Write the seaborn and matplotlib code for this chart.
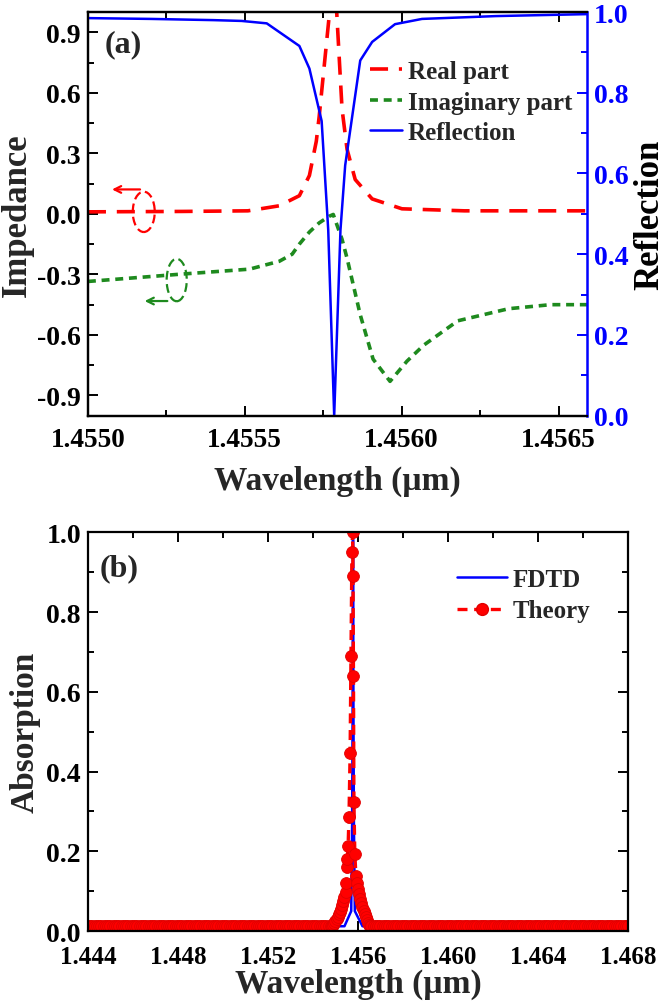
import numpy as np
import matplotlib
matplotlib.use("Agg")
import matplotlib.pyplot as plt
import seaborn as sns
from matplotlib.patches import Ellipse
from matplotlib.lines import Line2D
from matplotlib.ticker import MultipleLocator, AutoMinorLocator, FormatStrFormatter

# ---- panel (a): impedance and reflection ----
real_wl = [1.45500, 1.45530, 1.45551, 1.45561, 1.455674, 1.455706, 1.455728, 1.455737,
           1.455753, 1.455769, 1.455782, 1.455793, 1.45581, 1.455826, 1.455852,
           1.455906, 1.456001, 1.45620, 1.45660]
real_z = [0.010, 0.012, 0.015, 0.04, 0.09, 0.19, 0.36, 0.48,
          0.73, 0.98, 1.20, 1.00, 0.52, 0.32, 0.17,
          0.074, 0.025, 0.015, 0.015]

imag_wl = [1.45500, 1.455286, 1.455515, 1.45561, 1.455651, 1.455674, 1.455706, 1.455737,
           1.455769, 1.455782, 1.45581, 1.455826, 1.455868, 1.455909, 1.455963,
           1.456017, 1.456071, 1.456179, 1.456341, 1.456475, 1.45660]
imag_z = [-0.335, -0.30, -0.274, -0.235, -0.20, -0.15, -0.09, -0.045,
          -0.012, -0.003, -0.126, -0.22, -0.50, -0.72, -0.83,
          -0.73, -0.65, -0.53, -0.47, -0.45, -0.45]

refl_wl = [1.45500, 1.45520, 1.45540, 1.45549, 1.45557, 1.455674, 1.455706, 1.455745,
           1.455766, 1.455785, 1.455805, 1.45582, 1.455868, 1.455906, 1.455979,
           1.456065, 1.45630, 1.45660]
refl = [0.985, 0.983, 0.980, 0.978, 0.972, 0.916, 0.86, 0.73,
        0.46, 0.0, 0.46, 0.62, 0.88, 0.926, 0.97,
        0.983, 0.990, 0.995]

# ---- panel (b): absorption ----
fdtd_wl = [1.4440, 1.4500, 1.4554, 1.45570, 1.45574, 1.45576, 1.45578, 1.45580,
           1.45582, 1.45586, 1.4562, 1.4620, 1.4680]
fdtd_abs = [0.010, 0.010, 0.012, 0.05, 0.27, 0.54, 1.0, 0.54,
            0.27, 0.05, 0.012, 0.010, 0.010]

theory_peak_wl = [1.45485, 1.45490, 1.45495, 1.45500, 1.45505, 1.45510, 1.45515, 1.45520,
                  1.45525, 1.45530, 1.45535, 1.45540, 1.45545, 1.45548,
                  1.45551, 1.45553, 1.45556, 1.45560, 1.45565, 1.45569, 1.45573, 1.45576,
                  1.45578, 1.45580, 1.45582, 1.45586, 1.45591, 1.45596, 1.45600,
                  1.45605, 1.45610, 1.45615, 1.45620, 1.45625, 1.45630, 1.45635,
                  1.45640, 1.45645, 1.45650, 1.45655, 1.45658]
theory_peak_abs = [0.012, 0.016, 0.02, 0.025, 0.03, 0.036, 0.042, 0.048,
                   0.056, 0.065, 0.075, 0.085, 0.098, 0.12,
                   0.16, 0.18, 0.213, 0.286, 0.446, 0.69, 0.95, 1.0,
                   0.89, 0.64, 0.323, 0.193, 0.138, 0.12, 0.105,
                   0.092, 0.08, 0.07, 0.06, 0.05, 0.042, 0.034,
                   0.027, 0.021, 0.016, 0.013, 0.012]
theory_baseline = 0.012
theory_grid_left = np.arange(1.4440, 1.45485, 0.0001)
theory_grid_right = np.arange(1.45660, 1.46801, 0.0001)

theory_wl = np.concatenate([theory_grid_left, theory_peak_wl, theory_grid_right])
theory_abs = np.concatenate([np.full_like(theory_grid_left, theory_baseline),
                             theory_peak_abs,
                             np.full_like(theory_grid_right, theory_baseline)])

sns.set_theme(style="ticks")
plt.rcParams["font.family"] = ["Liberation Serif", "DejaVu Serif"]
plt.rcParams["font.weight"] = "bold"
plt.rcParams["axes.labelweight"] = "bold"
plt.rcParams["axes.linewidth"] = 1.6
plt.rcParams["axes.edgecolor"] = "black"

RED = "#ff0000"
GREEN = "#1e8a1e"
BLUE = "#0000ff"
LABEL = 24


def style_ticks(ax, xsize, ysize, xpad, right=True):
    ax.tick_params(which="both", direction="in", top=True, right=right, left=True,
                   bottom=True, colors="black", width=1.4)
    ax.tick_params(which="major", length=7)
    ax.tick_params(which="minor", length=4)
    ax.tick_params(axis="x", labelsize=xsize, pad=xpad)
    ax.tick_params(axis="y", labelsize=ysize, pad=5)


fig = plt.figure(figsize=(6.66, 10.04), dpi=100)

# panel (a)
ax = fig.add_axes([0.132, 0.585, 0.749, 0.402])
sns.lineplot(x=real_wl, y=real_z, ax=ax, color=RED, lw=2.6, estimator=None)
ax.lines[-1].set_dashes([5, 3])
sns.lineplot(x=imag_wl, y=imag_z, ax=ax, color=GREEN, lw=2.6, estimator=None)
ax.lines[-1].set_dashes([2.2, 1.6])
ax.set_xlim(1.4550, 1.45659)
ax.set_ylim(-1.0, 1.0)
ax.xaxis.set_major_locator(MultipleLocator(0.0005))
ax.xaxis.set_minor_locator(AutoMinorLocator(2))
ax.xaxis.set_major_formatter(FormatStrFormatter("%.4f"))
ax.yaxis.set_major_locator(MultipleLocator(0.3))
ax.yaxis.set_minor_locator(AutoMinorLocator(2))
ax.yaxis.set_major_formatter(FormatStrFormatter("%.1f"))
style_ticks(ax, 19.5, 20, 8, right=False)
ax.spines["right"].set_visible(False)
ax.set_xlabel("Wavelength (µm)", fontsize=LABEL, labelpad=9)
ax.set_ylabel("Impedance", fontsize=LABEL + 1, labelpad=2)

ax2 = ax.twinx()
sns.lineplot(x=refl_wl, y=refl, ax=ax2, color=BLUE, lw=1.8, estimator=None)
ax2.set_ylim(0.0, 1.0)
ax2.yaxis.set_major_locator(MultipleLocator(0.2))
ax2.yaxis.set_minor_locator(AutoMinorLocator(2))
ax2.yaxis.set_major_formatter(FormatStrFormatter("%.1f"))
ax2.tick_params(which="both", direction="in", right=True, colors=BLUE, width=1.4,
                labelsize=20, pad=5)
ax2.tick_params(which="major", length=7)
ax2.tick_params(which="minor", length=4)
ax2.spines["right"].set_color(BLUE)
ax2.spines["right"].set_linewidth(1.8)
ax2.set_ylabel("Reflection", fontsize=LABEL + 1, color="black", labelpad=4)

# dashed ellipses with arrows pointing to the impedance axis
ax.add_patch(Ellipse((1.455178, 0.01), 7.0e-5, 0.20, fill=False, ec=RED,
                     lw=1.6, ls=(0, (4, 2))))
ax.annotate("", xy=(1.455068, 0.121), xytext=(1.455175, 0.121),
            arrowprops=dict(arrowstyle="->", color=RED, lw=1.6))
ax.add_patch(Ellipse((1.455283, -0.328), 6.4e-5, 0.21, fill=False, ec=GREEN,
                     lw=1.6, ls=(0, (4, 2))))
ax.annotate("", xy=(1.455172, -0.432), xytext=(1.455262, -0.432),
            arrowprops=dict(arrowstyle="->", color=GREEN, lw=1.6))

ax.text(0.034, 0.958, "(a)", transform=ax.transAxes, fontsize=23,
        fontweight="bold", va="top", ha="left")

handles = [Line2D([], [], color=RED, lw=2.6, dashes=[5, 3]),
           Line2D([], [], color=GREEN, lw=2.6, dashes=[2.2, 1.6]),
           Line2D([], [], color=BLUE, lw=1.8)]
ax.legend(handles, ["Real part", "Imaginary part", "Reflection"], loc="upper left",
          bbox_to_anchor=(0.541, 0.912), frameon=False, fontsize=18,
          handlelength=1.25, handletextpad=0.25, labelspacing=0.3, borderpad=0)

# panel (b)
bx = fig.add_axes([0.132, 0.0717, 0.811, 0.397])
sns.lineplot(x=fdtd_wl, y=fdtd_abs, ax=bx, color=BLUE, lw=1.8, estimator=None)
sns.lineplot(x=theory_wl, y=theory_abs, ax=bx, color=RED, lw=2.4, estimator=None,
             sort=False, marker="o", markersize=8.5, markerfacecolor=RED,
             markeredgecolor="#e00000", markeredgewidth=0.6)
bx.lines[-1].set_dashes([3, 2])
bx.set_xlim(1.444, 1.468)
bx.set_ylim(0.0, 1.0)
bx.xaxis.set_major_locator(MultipleLocator(0.004))
bx.xaxis.set_minor_locator(AutoMinorLocator(2))
bx.xaxis.set_major_formatter(FormatStrFormatter("%.3f"))
bx.yaxis.set_major_locator(MultipleLocator(0.2))
bx.yaxis.set_minor_locator(AutoMinorLocator(2))
bx.yaxis.set_major_formatter(FormatStrFormatter("%.1f"))
style_ticks(bx, 18, 20, 10)
bx.set_xlabel("Wavelength (µm)", fontsize=LABEL, labelpad=0)
bx.set_ylabel("Absorption", fontsize=LABEL, labelpad=4)
bx.text(0.022, 0.948, "(b)", transform=bx.transAxes, fontsize=23,
        fontweight="bold", va="top", ha="left")

bhandles = [Line2D([], [], color=BLUE, lw=1.8),
            Line2D([], [], color=RED, lw=2.4, dashes=[3, 2], marker="o",
                   markersize=8.5, markerfacecolor=RED, markeredgecolor="#e00000")]
bx.legend(bhandles, ["FDTD", "Theory"], loc="upper left", bbox_to_anchor=(0.661, 0.943),
          frameon=False, fontsize=18, handlelength=2.0, handletextpad=0.2,
          labelspacing=0.35, borderpad=0, numpoints=1)

fig.savefig("out.png", dpi=100)
